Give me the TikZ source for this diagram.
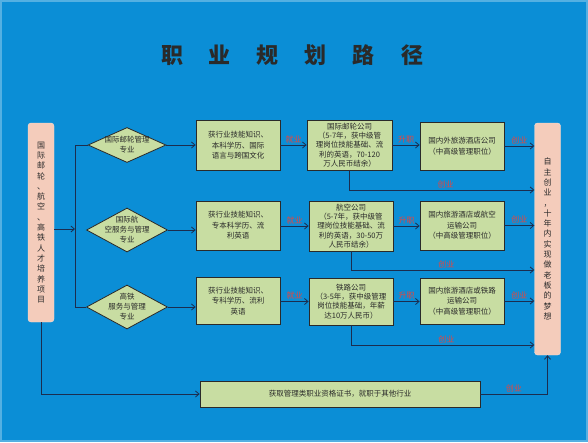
\documentclass[tikz,border=0pt]{standalone}
\usepackage{fontspec}
\setmainfont{Noto Sans CJK SC}
\usetikzlibrary{shapes.geometric,arrows.meta}
\definecolor{bgblue}{HTML}{0B8ED6}
\definecolor{boxgreen}{HTML}{C8DDA2}
\definecolor{boxpink}{HTML}{F4CCBB}
\definecolor{lineblue}{HTML}{1B2D4F}
\definecolor{tagred}{HTML}{E8453C}
\definecolor{inkgray}{HTML}{2A2A2A}
\newcommand{\tgap}{\hspace{26pt}}
\tikzset{
  title/.style={text=inkgray, font=\fontsize{22}{22}\selectfont\bfseries},
  gbox/.style={draw=inkgray, line width=0.8pt, fill=boxgreen, text=inkgray, align=center,
    minimum width=84pt, minimum height=50pt, inner sep=1pt, font=\fontsize{7.5}{10.5}\selectfont},
  kbox/.style={gbox, font=\fontsize{7.5}{9.2}\selectfont},
  pbox/.style={draw=boxpink!60!white, fill=boxpink, rounded corners=3pt, text=inkgray, align=center,
    minimum width=26pt, inner sep=0pt, font=\fontsize{8}{10.3}\selectfont},
  dia/.style={diamond, draw=inkgray, line width=0.8pt, fill=boxgreen, inner sep=0pt},
  dtext/.style={align=center, text=inkgray, font=\fontsize{7.5}{10}\selectfont},
  link/.style={draw=lineblue, line width=0.8pt},
  arr/.style={link, -{Straight Barb[length=3.5pt,width=6pt]}},
  tag/.style={text=tagred, font=\fontsize{8}{8}\selectfont, inner sep=1.5pt}
}
\begin{document}
\begin{tikzpicture}[x=1pt,y=-1pt]
\useasboundingbox[fill=bgblue] (0,0) rectangle (588,442);
\draw[draw=bgblue!70!white, line width=2pt] (1,1) rectangle (587,441);
\node[title] (T) at (292,55) {职\tgap 业\tgap 规\tgap 划\tgap 路\tgap 径};
%side boxes
\node[pbox, minimum height=199pt] (L) at (41,222.5) {国\\际\\邮\\轮\\、\\航\\空\\、\\高\\铁\\人\\才\\培\\养\\项\\目};
\node[pbox, minimum height=232pt] (R) at (547.5,239) {自\\主\\创\\业\\，\\十\\年\\内\\实\\现\\做\\老\\板\\的\\梦\\想};
%majors
\node[dia, minimum width=78pt, minimum height=35pt, label={[dtext]center:国际邮轮管理\\专业}] (D1) at (127,145) {};
\node[dia, minimum width=81pt, minimum height=44pt, label={[dtext]center:国际航\\空服务与管理\\专业}] (D2) at (127,230) {};
\node[dia, minimum width=81pt, minimum height=44pt, label={[dtext]center:高铁\\服务与管理\\专业}] (D3) at (127,307) {};
%skills
\node[gbox] (C1) at (238,145.5) {获行业技能知识、\\本科学历、国际\\语言与跨国文化};
\node[gbox, minimum height=49pt] (C2) at (238,225.5) {获行业技能知识、\\专本科学历、流\\利英语};
\node[gbox, minimum height=47pt] (C3) at (238,301) {获行业技能知识、\\专科学历、流利\\英语};
%companies
\node[kbox, minimum width=85pt] (K1) at (349.5,145) {国际邮轮公司\\（5-7年，获中级管\\理岗位技能基础、流\\利的英语，70-120\\万人民币结余）};
\node[kbox] (K2) at (351,226) {航空公司\\（5-7年，获中级管\\理岗位技能基础、流\\利的英语，30-50万\\人民币结余）};
\node[kbox, minimum height=47pt] (K3) at (351,301.5) {铁路公司\\（3-5年，获中级管理\\岗位技能基础，年薪\\达10万人民币）};
%hotels
\node[gbox, minimum height=48pt] (H1) at (462,146) {国内外旅游酒店公司\\（中高级管理职位）};
\node[gbox, minimum height=49pt] (H2) at (462,225.5) {国内旅游酒店或航空\\运输公司\\（中高级管理职位）};
\node[gbox, minimum height=46pt] (H3) at (462,301) {国内旅游酒店或铁路\\运输公司\\（中高级管理职位）};
%other trades
\node[gbox, minimum width=280pt, minimum height=26pt] (B) at (340,394) {获取管理类职业资格证书，就职于其他行业};
%trunk
\coordinate (t1) at (75,145);
\coordinate (t2) at (75,229);
\coordinate (t3) at (75,307);
\coordinate (b1) at (0,190);
\coordinate (b2) at (0,270);
\coordinate (b3) at (0,345);
\draw[link] (t1) -- (t3);
\draw[arr] (L.east |- t2) -- (t2);
\draw[link] (t1) -- (D1.west);
\draw[link] (t3) -- (D3.west);
%rows
\foreach \i in {1,2,3} {
  \draw[arr] (D\i.east) -- (D\i.east -| C\i.west);
  \draw[arr] (C\i.east |- K\i) -- (K\i.west) node[tag, midway, above] (j\i) {就业};
  \draw[arr] (K\i.east) -- (K\i.east -| H\i.west) node[tag, midway, above] (s\i) {升职};
  \draw[arr] (H\i.east) -- (H\i.east -| R.west) node[tag, midway, above] (c\i) {创业};
  \draw[arr] (K\i.south) |- (R.west |- b\i) node[tag, pos=0.76, above] (e\i) {创业};
}
%bottom
\draw[arr] (L.south) |- (B.west);
\draw[arr] (B.east) -| (R.south) node[tag, pos=0.25, above] (eb) {创业};
\end{tikzpicture}
\end{document}
